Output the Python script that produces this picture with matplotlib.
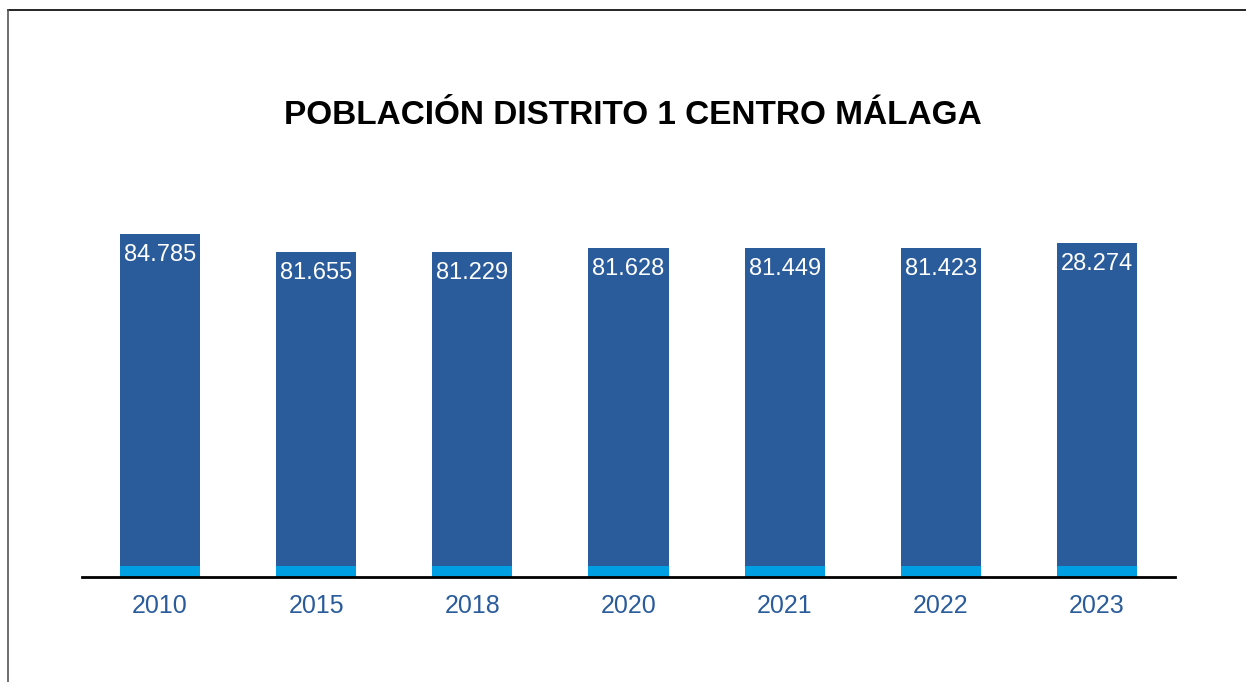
import matplotlib.pyplot as plt
from matplotlib.lines import Line2D

# datos (miles de habitantes)
years = ["2010", "2015", "2018", "2020", "2021", "2022", "2023"]
labels = ["84.785", "81.655", "81.229", "81.628", "81.449", "81.423", "28.274"]
# altura visible de cada barra
heights = [84.785, 81.655, 81.655, 82.35, 82.35, 82.35, 83.22]
base = 25.13
strip = 1.91

dark = "#2A5B9B"
light = "#009FE3"

plt.rcParams['font.family'] = ['Liberation Sans', 'DejaVu Sans']

fig = plt.figure(figsize=(12.46, 6.82), dpi=100)
ax = fig.add_axes([82 / 1246, 105 / 682, 1093 / 1246, 427 / 682])

x = range(len(years))
w = 80 / 156
ax.bar(x, [strip] * len(years), bottom=base, width=w, color=light)
ax.bar(x, [h - base - strip for h in heights], bottom=base + strip, width=w, color=dark)

for i, h in enumerate(heights):
    ax.text(i, h - 1.8, labels[i], ha="center", va="top", color="white", fontsize=17)

ax.set_xlim(-0.5, 6.5)
ax.set_ylim(base, base + 427 / 5.75)
ax.set_xticks(list(x))
ax.set_xticklabels(years, color=dark, fontsize=18)
ax.tick_params(axis="x", length=0, pad=12)
ax.set_yticks([])
for s in ["top", "right", "left"]:
    ax.spines[s].set_visible(False)
ax.spines["bottom"].set_linewidth(2)
ax.spines["bottom"].set_color("black")

fig.text(633 / 1246, 1 - 116 / 682, "POBLACIÓN DISTRITO 1 CENTRO MÁLAGA",
         ha="center", va="center", fontsize=24, fontweight="bold", color="black")

# marco
fig.add_artist(Line2D([8 / 1246, 1], [1 - 10 / 682, 1 - 10 / 682], color="black", lw=1.2))
fig.add_artist(Line2D([8 / 1246, 8 / 1246], [0, 1 - 10 / 682], color="#555555", lw=1.2))

fig.savefig("out.png", dpi=100)
